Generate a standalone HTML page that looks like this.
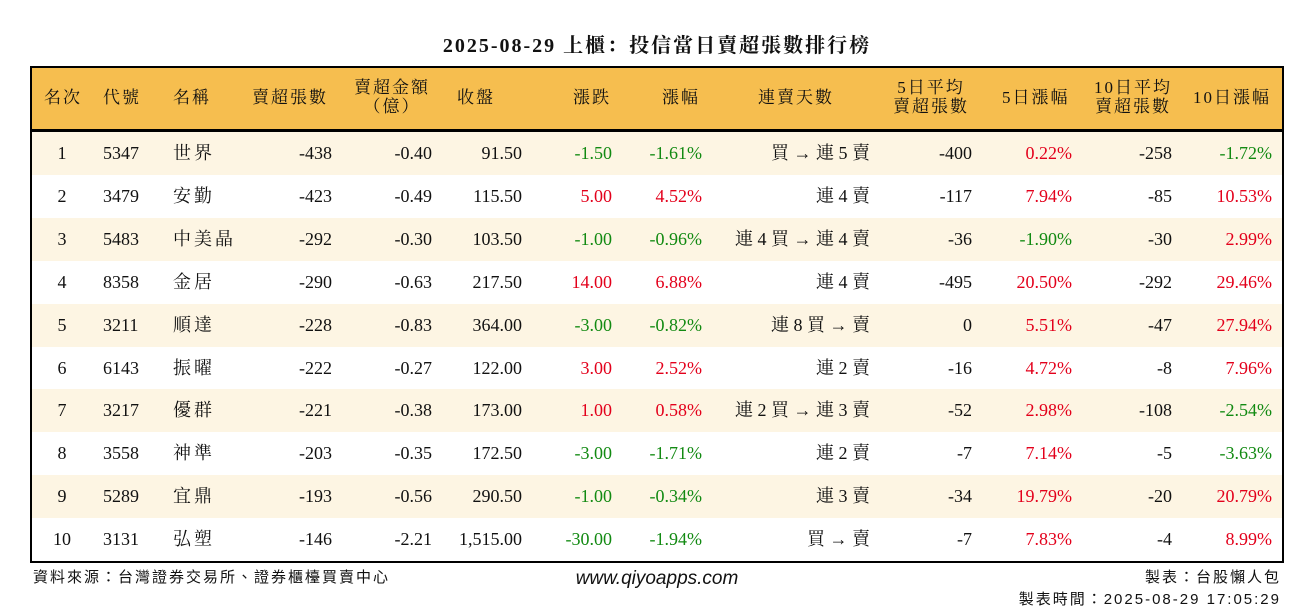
<!DOCTYPE html>
<html><head><meta charset="utf-8">
<style>
body{margin:0;width:1314px;height:612px;background:#fff;position:relative;overflow:hidden;font-family:"Liberation Serif","Noto Serif CJK SC","Noto Serif CJK TC",serif;color:#111}
.a{position:absolute;white-space:nowrap}
#title{left:0;width:1314px;top:29px;text-align:center;font-size:20px;font-weight:bold;letter-spacing:2px}
#tbl{position:absolute;left:30px;top:66px;width:1250px;height:493px;border:2px solid #000}
#hdr{position:absolute;left:0;top:0;width:1250px;height:61px;background:#f6be4f;border-bottom:3px solid #000}
.h{position:absolute;font-size:17px;line-height:19px;text-align:center;letter-spacing:2px}
.row{position:absolute;left:0;width:1250px;height:43px}
.c{position:absolute;top:0;line-height:43px;font-size:18px;white-space:nowrap}
.r{color:#e3001b}.g{color:#128a12}
.ft{font-family:"Liberation Sans","Noto Sans CJK TC",sans-serif;font-size:15px;letter-spacing:2px}
</style></head><body>
<div class="a" id="title">2025-08-29 上櫃：投信當日賣超張數排行榜</div>
<div id="tbl">
<div id="hdr">
<div class="h" style="left:12px;top:20px">名次</div>
<div class="h" style="left:71px;top:20px">代號</div>
<div class="h" style="left:141px;top:20px">名稱</div>
<div class="h" style="left:220px;top:20px">賣超張數</div>
<div class="h" style="left:322px;top:10px">賣超金額<br>（億）</div>
<div class="h" style="left:425px;top:20px">收盤</div>
<div class="h" style="left:541px;top:20px">漲跌</div>
<div class="h" style="left:630px;top:20px">漲幅</div>
<div class="h" style="left:726px;top:20px">連賣天數</div>
<div class="h" style="left:861px;top:10px">5日平均<br>賣超張數</div>
<div class="h" style="left:970px;top:20px">5日漲幅</div>
<div class="h" style="left:1062px;top:10px">10日平均<br>賣超張數</div>
<div class="h" style="left:1161px;top:20px">10日漲幅</div>
</div>
</div>
<div class="a ft" style="left:33px;top:566px">資料來源：台灣證券交易所、證券櫃檯買賣中心</div>
<div class="a" style="left:0;width:1314px;text-align:center;top:568px;font-family:'Liberation Sans',sans-serif;font-style:italic;font-size:19px">www.qiyoapps.com</div>
<div class="a ft" style="right:33px;top:566px">製表：台股懶人包</div>
<div class="a ft" style="right:33px;top:588px">製表時間：2025-08-29 17:05:29</div>
<script>
const codes=["5347","3479","5483","8358","3211","6143","3217","3558","5289","3131"];
const names=["世界","安勤","中美晶","金居","順達","振曜","優群","神準","宜鼎","弘塑"];
const netSell=[-438,-423,-292,-290,-228,-222,-221,-203,-193,-146];
const amount=["-0.40","-0.49","-0.30","-0.63","-0.83","-0.27","-0.38","-0.35","-0.56","-2.21"];
const closes=["91.50","115.50","103.50","217.50","364.00","122.00","173.00","172.50","290.50","1,515.00"];
const changes=["-1.50","5.00","-1.00","14.00","-3.00","3.00","1.00","-3.00","-1.00","-30.00"];
const pcts=["-1.61%","4.52%","-0.96%","6.88%","-0.82%","2.52%","0.58%","-1.71%","-0.34%","-1.94%"];
const streaks=["買 → 連 5 賣","連 4 賣","連 4 買 → 連 4 賣","連 4 賣","連 8 買 → 賣","連 2 賣","連 2 買 → 連 3 賣","連 2 賣","連 3 賣","買 → 賣"];
const avg5=[-400,-117,-36,-495,0,-16,-52,-7,-34,-7];
const pct5=["0.22%","7.94%","-1.90%","20.50%","5.51%","4.72%","2.98%","7.14%","19.79%","7.83%"];
const avg10=[-258,-85,-30,-292,-47,-8,-108,-5,-20,-4];
const pct10=["-1.72%","10.53%","2.99%","29.46%","27.94%","7.96%","-2.54%","-3.63%","20.79%","8.99%"];
const tbl=document.getElementById('tbl');
function cell(row,txt,pos,cls,name){
  const d=document.createElement('div');
  d.className='c '+(cls||'');
  d.textContent=txt;
  if(pos.l!==undefined)d.style.left=pos.l+'px';
  if(pos.r!==undefined)d.style.right=pos.r+'px';
  if(pos.c!==undefined){d.style.left=(pos.c-30)+'px';d.style.width='60px';d.style.textAlign='center';}
  if(pos.ls)d.style.letterSpacing=pos.ls+'px';
  
  
  row.appendChild(d);
}
function col(v){return v.startsWith('-')?'g':'r';}
for(let i=0;i<codes.length;i++){
  const row=document.createElement('div');
  row.className='row';
  row.style.top=(64+i*42.9)+'px';
  row.style.background=i%2===0?'#fdf5e3':'#fff';
  
  
  cell(row,String(i+1),{c:30},'','rank');
  cell(row,codes[i],{l:71},'','code');
  cell(row,names[i],{l:141,ls:3},'','name');
  cell(row,String(netSell[i]),{r:1250-300},'','net-sell');
  cell(row,amount[i],{r:1250-400},'','net-sell-amount');
  cell(row,closes[i],{r:1250-490},'','close');
  cell(row,changes[i],{r:1250-580},col(changes[i]),'change');
  cell(row,pcts[i],{r:1250-670},col(pcts[i]),'change-pct');
  cell(row,streaks[i],{r:1250-838},'','streak');
  cell(row,String(avg5[i]),{r:1250-940},'','avg-5d');
  cell(row,pct5[i],{r:1250-1040},col(pct5[i]),'pct-5d');
  cell(row,String(avg10[i]),{r:1250-1140},'','avg-10d');
  cell(row,pct10[i],{r:1250-1240},col(pct10[i]),'pct-10d');
  tbl.appendChild(row);
}
</script>
</body></html>
